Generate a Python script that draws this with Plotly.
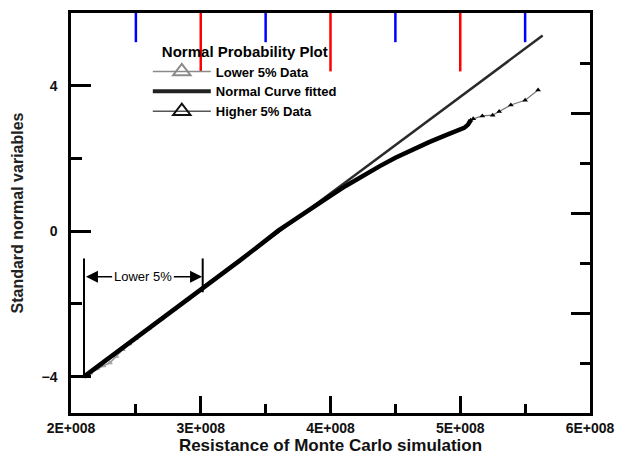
import plotly.graph_objects as go

# ---- data (x in ohms, y = standard normal variable) ----
lower_x = [2.10e8, 2.15e8, 2.20e8, 2.25e8, 2.30e8, 2.35e8, 2.40e8, 2.45e8, 2.50e8, 2.60e8, 2.70e8, 2.80e8, 2.90e8, 3.00e8]
lower_y = [-4.00, -3.90, -3.78, -3.70, -3.62, -3.44, -3.25, -3.10, -2.95, -2.68, -2.41, -2.14, -1.88, -1.61]

main_x = [2.10e8, 2.50e8, 3.00e8, 3.30e8, 3.60e8, 3.73e8, 3.86e8, 3.99e8, 4.12e8, 4.25e8, 4.38e8,
          4.50e8, 4.63e8, 4.76e8, 4.89e8, 4.97e8, 5.03e8, 5.06e8, 5.08e8]
main_y = [-4.00, -2.94, -1.61, -0.81, 0.02, 0.34, 0.64, 0.95, 1.25, 1.53, 1.79, 2.02, 2.24, 2.45, 2.64,
          2.75, 2.84, 2.93, 3.05]

higher_x = [5.08e8, 5.10e8, 5.17e8, 5.25e8, 5.30e8, 5.39e8, 5.50e8, 5.60e8]
higher_y = [3.05, 3.09, 3.17, 3.19, 3.29, 3.47, 3.60, 3.88]

fit_x = [2.10e8, 5.635e8]
fit_y = [-4.00, 5.38]

x_ticks = [2e8, 3e8, 4e8, 5e8, 6e8]
x_ticktext = ["2E+008", "3E+008", "4E+008", "5E+008", "6E+008"]
x_minor = [2.5e8, 3.5e8, 4.5e8, 5.5e8]
y_ticks = [-4, 0, 4]
y_minor = [-2, 2]
y2_major = [2, 4, 6]
y2_minor = [1, 3, 5, 7]

FONT = "Liberation Sans, Arial, sans-serif"
PLOT_H = 461 - 10 - 40  # plot area height in px

fig = go.Figure()

fig.add_trace(go.Scatter(x=fit_x, y=fit_y, mode="lines",
                         line=dict(color="#2a2a2a", width=2.5), showlegend=False))
fig.add_trace(go.Scatter(x=lower_x, y=lower_y, mode="lines+markers",
                         line=dict(color="#9a9a9a", width=1.5),
                         marker=dict(symbol="triangle-up-open", size=4, color="#9a9a9a"),
                         showlegend=False))
fig.add_trace(go.Scatter(x=main_x, y=main_y, mode="lines",
                         line=dict(color="black", width=4.5), showlegend=False))
fig.add_trace(go.Scatter(x=higher_x, y=higher_y, mode="lines+markers",
                         line=dict(color="#777777", width=1.2),
                         marker=dict(symbol="triangle-up", size=5, color="black"),
                         showlegend=False))

fig.add_trace(go.Scatter(x=[None], y=[None], mode="lines+markers", name="Lower 5% Data",
                         line=dict(color="#8a8a8a", width=1.5),
                         marker=dict(symbol="triangle-up-open", size=15, color="#8a8a8a",
                                     line=dict(width=2))))
fig.add_trace(go.Scatter(x=[None], y=[None], mode="lines", name="Normal Curve fitted",
                         line=dict(color="#222222", width=4)))
fig.add_trace(go.Scatter(x=[None], y=[None], mode="lines+markers", name="Higher 5% Data",
                         line=dict(color="#555555", width=1.5),
                         marker=dict(symbol="triangle-up-open", size=15, color="#111111",
                                     line=dict(width=2))))
fig.add_trace(go.Scatter(x=[2e8, 6e8], y=[None, None], yaxis="y2", showlegend=False, hoverinfo="skip"))

# diagnostic: long red top ticks
for v in x_ticks[1:-1]:
    fig.add_shape(type="line", xref="x", yref="paper", x0=v, x1=v, y0=1, y1=1 - 60 / PLOT_H,
                  line=dict(color="red", width=2.5), layer="above")
for v in x_minor:
    fig.add_shape(type="line", xref="x", yref="paper", x0=v, x1=v, y0=1, y1=1 - 30 / PLOT_H,
                  line=dict(color="blue", width=2.5), layer="above")

fig.add_shape(type="line", x0=2.10e8, x1=2.10e8, y0=-0.75, y1=-4.0,
              line=dict(color="black", width=2))
fig.add_shape(type="line", x0=3.015e8, x1=3.015e8, y0=-0.75, y1=-1.68,
              line=dict(color="black", width=2))
fig.add_annotation(x=2.115e8, y=-1.25, ax=2.33e8, ay=-1.25, axref="x", ayref="y",
                   text="", showarrow=True, arrowhead=2, arrowsize=1.6, arrowwidth=1.5,
                   arrowcolor="black")
fig.add_annotation(x=3.01e8, y=-1.25, ax=2.78e8, ay=-1.25, axref="x", ayref="y",
                   text="", showarrow=True, arrowhead=2, arrowsize=1.6, arrowwidth=1.5,
                   arrowcolor="black")
fig.add_annotation(x=2.555e8, y=-1.25, text="Lower 5%", showarrow=False,
                   font=dict(family=FONT, size=13, color="black"), bgcolor="white")

fig.update_layout(
    width=629, height=461,
    margin=dict(l=71, r=39, t=10, b=40),
    paper_bgcolor="white", plot_bgcolor="white",
    font=dict(family=FONT, color="black"),
    showlegend=True,
    legend=dict(
        x=0.148, y=0.94, xanchor="left", yanchor="top",
        bgcolor="rgba(0,0,0,0)", itemwidth=58,
        font=dict(family=FONT, size=13, color="black", weight="bold"),
        title=dict(text="<b>Normal Probability Plot</b>", side="top center",
                   font=dict(family=FONT, size=15, color="black")),
        tracegroupgap=0,
    ),
    xaxis=dict(
        range=[2e8, 6e8], tickmode="array", tickvals=x_ticks, ticktext=x_ticktext,
        ticks="inside", ticklen=17, tickwidth=2.5, tickcolor="black",
        minor=dict(tickvals=x_minor, ticks="inside", ticklen=9, tickwidth=2.5, tickcolor="black"),
        showline=True, linecolor="black", linewidth=2.5, mirror=True,
        showgrid=False, zeroline=False,
        tickfont=dict(family=FONT, size=14, color="#111111", weight="bold"),
        title=dict(text="<b>Resistance of Monte Carlo simulation</b>", standoff=4,
                   font=dict(family=FONT, size=17, color="#111111")),
    ),
    yaxis=dict(
        range=[-5, 6], tickmode="array", tickvals=y_ticks,
        ticks="inside", ticklen=20, tickwidth=2.5, tickcolor="black",
        minor=dict(tickvals=y_minor, ticks="inside", ticklen=11, tickwidth=2.5, tickcolor="black"),
        showline=True, linecolor="black", linewidth=2.5, mirror=False,
        showgrid=False, zeroline=False, ticklabelstandoff=8,
        tickfont=dict(family=FONT, size=14, color="#111111", weight="bold"),
        title=dict(text="<b>Standard normal variables</b>", standoff=14,
                   font=dict(family=FONT, size=16, color="#222222")),
    ),
    yaxis2=dict(
        overlaying="y", side="right", range=[0, 8], tickmode="array", tickvals=y2_major,
        ticks="inside", ticklen=19, tickwidth=2.5, tickcolor="black",
        minor=dict(tickvals=y2_minor, ticks="inside", ticklen=10, tickwidth=2.5, tickcolor="black"),
        showline=True, linecolor="black", linewidth=2.5, showticklabels=False,
        showgrid=False, zeroline=False,
    ),
)

fig.write_html("out.html", config={"displayModeBar": False})
